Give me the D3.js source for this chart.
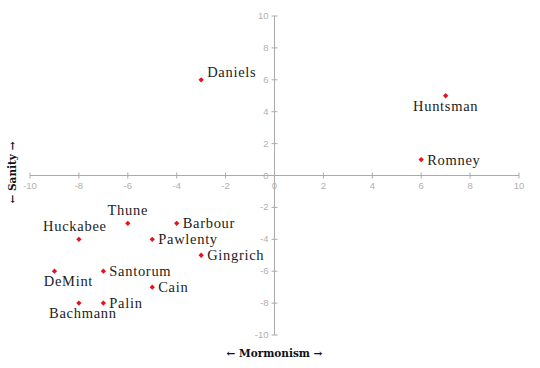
<!DOCTYPE html>
<html>
<head>
<meta charset="utf-8">
<script src="https://cdn.jsdelivr.net/npm/d3@7"></script>
<style>
  body { margin: 0; background: #fff; }
  .tick-label { font-family: "Liberation Sans", Arial, sans-serif; font-size: 9.5px; fill: #b0b0b0; }
  .name { font-family: "Liberation Serif", "Times New Roman", serif; font-size: 14.5px; fill: #222; letter-spacing: 0.7px; }
  .axis-title { font-family: "DejaVu Serif", Georgia, serif; font-size: 10.5px; font-weight: bold; fill: #111; }
</style>
</head>
<body>
<div id="chart"></div>
<script>
// --- Data ---
const names = ["Daniels", "Huntsman", "Romney", "Thune", "Barbour", "Huckabee", "Pawlenty",
  "Gingrich", "DeMint", "Santorum", "Cain", "Palin", "Bachmann"];
const mormonism = [-3, 7, 6, -6, -4, -8, -5, -3, -9, -7, -5, -7, -8];
const sanity = [6, 5, 1, -3, -3, -4, -4, -5, -6, -6, -7, -8, -8];
// where each name sits relative to its point
const labelSide = ["right", "below", "right", "above", "right", "above", "right",
  "right", "below", "right", "right", "right", "below"];
const ticks = [-10, -8, -6, -4, -2, 0, 2, 4, 6, 8, 10];

const width = 540, height = 368;
const svg = d3.select("#chart").append("svg")
  .attr("width", width)
  .attr("height", height);

const x = d3.scaleLinear().domain([-10, 10]).range([30, 519]);
const y = d3.scaleLinear().domain([-10, 10]).range([335, 16]);

const axisColor = "#aaa";

// horizontal axis through y=0
svg.append("line")
  .attr("x1", x(-10)).attr("x2", x(10))
  .attr("y1", y(0)).attr("y2", y(0))
  .attr("stroke", axisColor);
// vertical axis through x=0
svg.append("line")
  .attr("x1", x(0)).attr("x2", x(0))
  .attr("y1", y(-10)).attr("y2", y(10))
  .attr("stroke", axisColor);

// x ticks (small crosses)
svg.selectAll("line.xtick").data(ticks).enter().append("line")
  .attr("class", "xtick")
  .attr("x1", d => x(d)).attr("x2", d => x(d))
  .attr("y1", y(0) - 3).attr("y2", y(0) + 3)
  .attr("stroke", axisColor);
svg.selectAll("text.xlab").data(ticks).enter().append("text")
  .attr("class", "tick-label xlab")
  .attr("x", d => x(d))
  .attr("y", y(0) + 13)
  .attr("text-anchor", "middle")
  .text(d => d);

// y ticks
svg.selectAll("line.ytick").data(ticks).enter().append("line")
  .attr("class", "ytick")
  .attr("x1", x(0) - 3).attr("x2", x(0) + 3)
  .attr("y1", d => y(d)).attr("y2", d => y(d))
  .attr("stroke", axisColor);
svg.selectAll("text.ylab").data(ticks).enter().append("text")
  .attr("class", "tick-label ylab")
  .attr("x", x(0) - 6)
  .attr("y", d => y(d) + 3)
  .attr("text-anchor", "end")
  .text(d => d);

// points
const points = names.map((n, i) => ({ name: n, mx: mormonism[i], sy: sanity[i], side: labelSide[i] }));

svg.selectAll("path.pt").data(points).enter().append("path")
  .attr("class", "pt")
  .attr("d", d3.symbol().type(d3.symbolSquare).size(14))
  .attr("transform", d => `translate(${x(d.mx)},${y(d.sy)}) rotate(45)`)
  .attr("fill", "#e8101a");

svg.selectAll("text.name").data(points).enter().append("text")
  .attr("class", "name")
  .attr("x", d => {
    if (d.side === "right") return x(d.mx) + 6;
    if (d.name === "DeMint") return x(d.mx) + 14;
    if (d.name === "Bachmann") return x(d.mx) + 4;
    if (d.name === "Huckabee") return x(d.mx) - 4;
    return x(d.mx);
  })
  .attr("y", d => {
    if (d.side === "above") return y(d.sy) - 8;
    if (d.side === "below") return y(d.sy) + 15;
    if (d.name === "Daniels") return y(d.sy) - 3;
    return y(d.sy) + 5;
  })
  .attr("text-anchor", d => d.side === "right" ? "start" : "middle")
  .text(d => d.name);

// axis titles
svg.append("text")
  .attr("class", "axis-title")
  .attr("x", x(0))
  .attr("y", 357)
  .attr("text-anchor", "middle")
  .text("\u2190 Mormonism \u2192");

svg.append("text")
  .attr("class", "axis-title")
  .attr("transform", `translate(16,${y(0) - 3}) rotate(-90)`)
  .attr("text-anchor", "middle")
  .text("\u2190 Sanity \u2192");
</script>
</body>
</html>
